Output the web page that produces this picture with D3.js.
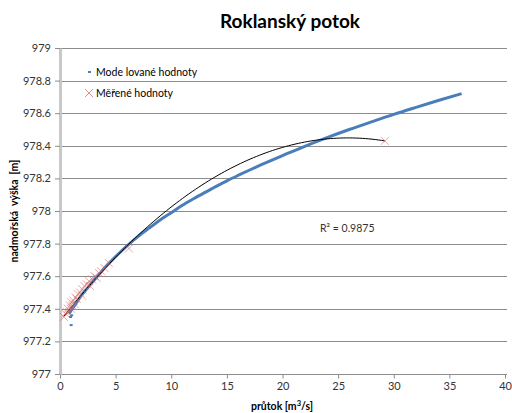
<!DOCTYPE html>
<html><head><meta charset="utf-8">
<script src="https://cdn.jsdelivr.net/npm/d3@7"></script>
<style>body{margin:0;background:#fff}svg{display:block}</style>
</head><body>
<svg id="c" width="512" height="413"></svg>
<script>
const title = "Roklanský potok";
const xLabel = "průtok [m";
const yLabel = "nadmořská  výška  [m]";
const xTicks = [0,5,10,15,20,25,30,35,40];
const yTicks = [977,977.2,977.4,977.6,977.8,978,978.2,978.4,978.6,978.8,979];
const seriesNames = ["Mode lované hodnoty","Měřené hodnoty"];
// Modelled values (x = discharge, y = elevation)
const modelX = [0.8,1,1.5,2,2.5,3,3.5,4,5,6,7,8,9,10,11,12,13,14,15,16,17,18,19,20,22,24,26,28,30,32,34,36.1];
const modelY = [977.37,977.39,977.44,977.49,977.53,977.57,977.61,977.65,977.72,977.785,977.843,977.895,977.945,977.99,978.035,978.075,978.113,978.15,978.185,978.218,978.25,978.281,978.311,978.34,978.397,978.45,978.50,978.547,978.593,978.636,978.678,978.72];
const modelOutX = [1.0,1.05,0.95];
const modelOutY = [977.30,977.36,977.35];
// Measured values
const measX = [0.35,0.5,0.6,0.7,0.8,0.9,1.0,1.0,1.1,1.2,1.3,1.4,1.5,1.6,1.8,2.0,2.0,2.2,2.4,2.6,2.7,2.9,3.1,3.3,3.5,3.7,4.0,4.4,6.2,29.2];
const measY = [977.35,977.37,977.38,977.40,977.38,977.42,977.40,977.44,977.42,977.45,977.43,977.47,977.46,977.49,977.50,977.52,977.48,977.54,977.55,977.57,977.54,977.58,977.60,977.59,977.62,977.63,977.65,977.68,977.77,978.43];
// Polynomial trendline (order 2) coefficients: c0 + c1*x + c2*x^2
const trendCoef = [977.3241, 0.086843, -0.001677];
const r2Text = "R² = 0.9875";

const svg = d3.select("#c");
const font = "Lato, 'Open Sans', sans-serif";
const x = d3.scaleLinear().domain([0,40]).range([60,505]);
const y = d3.scaleLinear().domain([977,979]).range([374,48]);

// gridlines
svg.append("g").selectAll("line").data(yTicks.slice(1)).join("line")
  .attr("x1",60).attr("x2",507).attr("y1",d=>Math.round(y(d))+0.5).attr("y2",d=>Math.round(y(d))+0.5)
  .attr("stroke","#8c8c8c").attr("stroke-width",1);

// x axis
const xAxis = svg.append("g").attr("transform","translate(0,374.5)")
  .call(d3.axisBottom(x).tickValues(xTicks).tickSize(4).tickSizeOuter(0).tickPadding(4));
xAxis.select(".domain").attr("stroke","#8c8c8c").attr("d","M60,0H507");
xAxis.selectAll(".tick line").attr("stroke","#8c8c8c");
xAxis.selectAll("text").attr("font-family",font).attr("font-size",11).attr("fill","#333");

// y axis
const yAxis = svg.append("g").attr("transform","translate(60,0)")
  .call(d3.axisLeft(y).tickValues(yTicks).tickSize(5).tickSizeOuter(0).tickPadding(4).tickFormat(d=>d3.format("")(+d.toFixed(1))));
yAxis.select(".domain").attr("stroke","#c8c8c8").attr("stroke-width",3);
yAxis.selectAll(".tick line").attr("stroke","#8c8c8c");
yAxis.selectAll("text").attr("font-family",font).attr("font-size",11).attr("fill","#333");

// modelled series as dense line
const modelPts = modelX.map((v,i)=>[v,modelY[i]]);
svg.append("path").datum(modelPts)
  .attr("d", d3.line().x(d=>x(d[0])).y(d=>y(d[1])).curve(d3.curveMonotoneX))
  .attr("fill","none").attr("stroke","#4a7ebb").attr("stroke-width",3);
svg.append("g").selectAll("rect").data(modelOutX.map((v,i)=>[v,modelOutY[i]])).join("rect")
  .attr("x",d=>x(d[0])-1.5).attr("y",d=>y(d[1])-1).attr("width",3).attr("height",2).attr("fill","#4a7ebb");

// trendline
const tx0 = d3.min(measX), tx1 = d3.max(measX);
const trendPts = d3.range(0,101).map(i=>{const xv = tx0 + (tx1-tx0)*i/100; return [xv, trendCoef[0]+trendCoef[1]*xv+trendCoef[2]*xv*xv];});
svg.append("path").datum(trendPts)
  .attr("d", d3.line().x(d=>x(d[0])).y(d=>y(d[1])))
  .attr("fill","none").attr("stroke","#000").attr("stroke-width",1);

// measured markers (x)
const s = 4;
svg.append("g").selectAll("path").data(measX.map((v,i)=>[v,measY[i]])).join("path")
  .attr("d",d=>{const cx=x(d[0]), cy=y(d[1]); return `M${cx-s},${cy-s}L${cx+s},${cy+s}M${cx-s},${cy+s}L${cx+s},${cy-s}`;})
  .attr("stroke","#d9605c").attr("stroke-opacity",0.55).attr("stroke-width",1).attr("fill","none");

// title
svg.append("text").attr("x",290).attr("y",28).attr("text-anchor","middle")
  .attr("font-family",font).attr("font-weight","bold").attr("font-size",19).attr("fill","#000").text(title);

// axis titles
const xt = svg.append("text").attr("x",282).attr("y",410).attr("text-anchor","middle")
  .attr("font-family",font).attr("font-weight","bold").attr("font-size",10.5).attr("fill","#000");
xt.append("tspan").text(xLabel);
xt.append("tspan").attr("dy",-4).attr("font-size",7.5).text("3");
xt.append("tspan").attr("dy",4).text("/s]");
svg.append("text").attr("transform","translate(18,211) rotate(-90)").attr("text-anchor","middle")
  .attr("font-family",font).attr("font-weight","bold").attr("font-size",10.5).attr("fill","#000")
  .style("white-space","pre").text(yLabel);

// legend
svg.append("rect").attr("x",88).attr("y",71).attr("width",3).attr("height",2).attr("fill","#4a7ebb");
svg.append("text").attr("x",96).attr("y",76).attr("font-family",font).attr("font-size",10.5).attr("fill","#000").text(seriesNames[0]);
svg.append("path").attr("d","M85,89L93,97M85,97L93,89").attr("stroke","#d9605c").attr("stroke-opacity",0.7).attr("fill","none");
svg.append("text").attr("x",96).attr("y",97).attr("font-family",font).attr("font-size",10.5).attr("fill","#000").text(seriesNames[1]);

// R2 label
svg.append("text").attr("x",320).attr("y",232).attr("font-family",font).attr("font-size",10.5).attr("fill","#333").text(r2Text);
</script>
</body></html>
